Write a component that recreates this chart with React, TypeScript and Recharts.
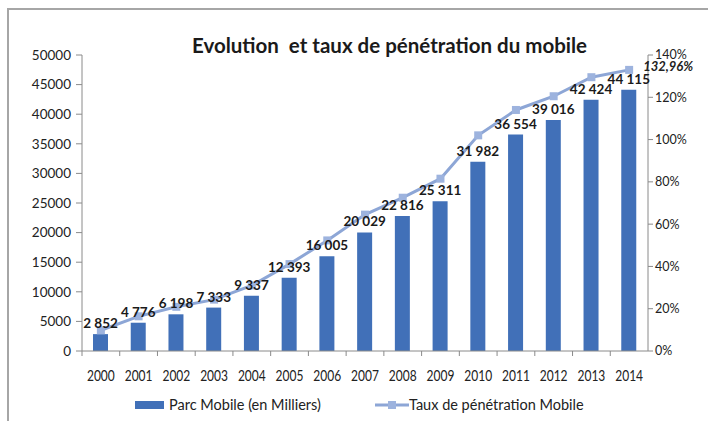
import React from 'react';
import { ComposedChart, Bar, Line, XAxis, YAxis, LabelList, Legend } from 'recharts';

const years = ['2000', '2001', '2002', '2003', '2004', '2005', '2006', '2007', '2008', '2009', '2010', '2011', '2012', '2013', '2014'];
const parcMobile = [2852, 4776, 6198, 7333, 9337, 12393, 16005, 20029, 22816, 25311, 31982, 36554, 39016, 42424, 44115];
const tauxPenetration = [9.8, 16.4, 20.9, 24.3, 31.0, 41.1, 52.3, 64.5, 72.5, 81.5, 102, 114, 120.5, 129.5, 132.96];
const leftTicks = [0, 5000, 10000, 15000, 20000, 25000, 30000, 35000, 40000, 45000, 50000];
const rightTicks = [0, 20, 40, 60, 80, 100, 120, 140];

const data = years.map((y, i) => ({ year: y, parc: parcMobile[i], taux: tauxPenetration[i] }));

const BAR = '#4170B8';
const LINE = '#8DA6D6';
const MARK = '#9DB3DE';
const AXIS = '#8a8a8a';
const FONT = 'Lato, "Open Sans", sans-serif';

const fmtThousands = (v: number) => {
  const s = String(v);
  return s.length > 3 ? s.slice(0, s.length - 3) + '\u00a0' + s.slice(s.length - 3) : s;
};

const XTick = (props: any) => {
  const { x, y, payload } = props;
  const off = payload.offset || 0;
  return (
    <g>
      <line x1={x - off} x2={x - off} y1={y - 5} y2={y} stroke={AXIS} />
      <text
        transform={`translate(${x},${y + 25}) scale(0.8,1)`}
        textAnchor="middle"
        fontFamily={FONT}
        fontSize={15}
        fill="#222"
      >
        {payload.value}
      </text>
    </g>
  );
};

const BarLabel = (props: any) => {
  const { x, y, width, value } = props;
  return (
    <text
      x={x + width / 2}
      y={y - 6}
      textAnchor="middle"
      fontFamily={FONT}
      fontSize={13.5}
      fontWeight="bold"
      fill="#1a1a1a"
    >
      {fmtThousands(Number(value))}
    </text>
  );
};

const LastLabel = (props: any) => {
  const { x, y, index, value } = props;
  if (index !== tauxPenetration.length - 1) return null;
  return (
    <text
      x={x + 14}
      y={y + 1}
      fontFamily={FONT}
      fontSize={13}
      fontWeight="bold"
      fontStyle="italic"
      fill="#222"
    >
      {String(value).replace('.', ',') + '%'}
    </text>
  );
};

const Square = (props: any) => {
  const { cx, cy } = props;
  if (cx == null || cy == null) return null;
  return <rect x={cx - 4} y={cy - 4} width={8} height={8} fill={MARK} />;
};

const LegendContent = () => (
  <div
    style={{
      fontFamily: FONT,
      fontSize: 14.5,
      color: '#222',
      position: 'relative',
      height: 20,
    }}
  >
    <div style={{ position: 'absolute', left: 135, top: 8, width: 29, height: 8, background: BAR }} />
    <div style={{ position: 'absolute', left: 169, top: 2, whiteSpace: 'nowrap', lineHeight: '20px' }}>Parc Mobile (en Milliers)</div>
    <svg style={{ position: 'absolute', left: 375, top: 5 }} width={34} height={14}>
      <line x1={0} x2={34} y1={7} y2={7} stroke={LINE} strokeWidth={3} />
      <rect x={13} y={3} width={8} height={8} fill={MARK} />
    </svg>
    <div style={{ position: 'absolute', left: 409, top: 2, whiteSpace: 'nowrap', lineHeight: '20px' }}>Taux de pénétration Mobile</div>
  </div>
);

export default function App() {
  return (
    <div style={{ position: 'absolute', left: 0, top: 0, width: 708, height: 421, background: '#fff' }}>
      <div
        style={{
          position: 'absolute',
          left: 7,
          top: 8,
          width: 701,
          height: 413,
          borderLeft: '2px solid #a6a6a6',
          borderTop: '2px solid #a6a6a6',
          boxSizing: 'border-box',
        }}
      />
      <div
        style={{
          position: 'absolute',
          left: 192,
          top: 33,
          width: 393,
          textAlign: 'center',
          fontFamily: FONT,
          fontWeight: 'bold',
          fontSize: 20.5,
          color: '#1a1a1a',
          whiteSpace: 'pre',
        }}
      >
        {'Evolution  et taux de pénétration du mobile'}
      </div>
      <div style={{ position: 'absolute', left: 0, top: 0 }}>
        <ComposedChart width={708} height={421} data={data} margin={{ top: 55, right: 0, bottom: 0, left: 0 }}>
          <XAxis
            dataKey="year"
            height={70}
            tickSize={5}
            tickMargin={0}
            tickLine={false}
            axisLine={{ stroke: AXIS }}
            tick={<XTick />}
            interval={0}
          />
          <YAxis
            yAxisId="left"
            width={82}
            domain={[0, 50000]}
            ticks={leftTicks}
            interval={0}
            tickSize={6}
            tickMargin={5}
            tickLine={{ stroke: AXIS }}
            axisLine={{ stroke: AXIS }}
            tick={{ fill: '#222', fontSize: 13.5, fontFamily: FONT }}
          />
          <YAxis
            yAxisId="right"
            orientation="right"
            width={60}
            domain={[0, 140]}
            ticks={rightTicks}
            interval={0}
            tickSize={5}
            tickMargin={2}
            tickFormatter={(v: number) => `${v}%`}
            tickLine={{ stroke: AXIS }}
            axisLine={{ stroke: AXIS }}
            tick={{ fill: '#222', fontSize: 12.5, fontFamily: FONT }}
          />
          <Legend
            layout="horizontal"
            verticalAlign="middle"
            wrapperStyle={{ position: 'absolute', left: 0, top: 393, width: 708 }}
            content={<LegendContent />}
          />
          <Line
            yAxisId="right"
            dataKey="taux"
            stroke={LINE}
            strokeWidth={3}
            dot={<Square />}
            activeDot={false}
            isAnimationActive={false}
          >
            <LabelList dataKey="taux" content={<LastLabel />} />
          </Line>
          <Bar yAxisId="left" dataKey="parc" fill={BAR} barSize={15} isAnimationActive={false}>
            <LabelList dataKey="parc" content={<BarLabel />} />
          </Bar>
        </ComposedChart>
      </div>
    </div>
  );
}
